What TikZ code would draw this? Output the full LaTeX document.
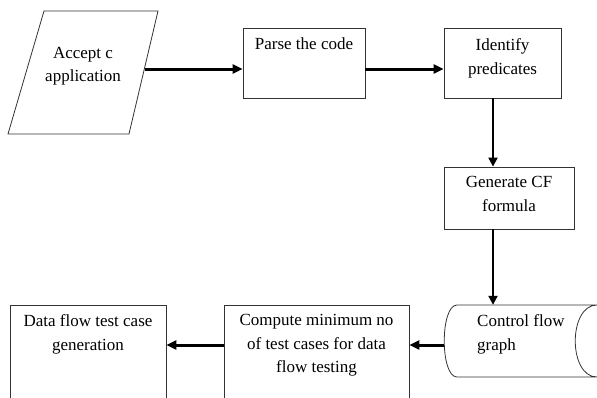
\documentclass[tikz,border=0pt]{standalone}
\usepackage{fontspec}
\setmainfont{Liberation Serif}
\usetikzlibrary{arrows.meta}
\tikzset{
  box/.style={shape=rectangle,draw=black!80,line width=0.8pt,inner sep=0pt},
  txt/.style={anchor=north,align=center,inner sep=0pt,font=\fontsize{17}{23.5}\selectfont},
  arr/.style={-{Triangle[length=10pt,width=9pt]},line width=3pt},
  varr/.style={-{Triangle[length=9pt,width=9pt]},line width=2pt}
}
\begin{document}
\begin{tikzpicture}[x=1pt,y=-1pt]
                \useasboundingbox (0,0) rectangle (597,397);
                \clip (0,0) rectangle (597,397);
                % input parallelogram
                \draw[black!80,line width=0.8pt] (44,11) -- (158,11) -- (129,134) -- (8,134) -- cycle;
                \coordinate (accept) at (144.5,69);
                \node[box,minimum width=122pt,minimum height=70pt] (parse) at (304,63) {};
                \node[box,minimum width=117pt,minimum height=70pt] (ident) at (502.5,63) {};
                \node[box,minimum width=130pt,minimum height=62pt] (gen) at (509,198) {};
                \node[minimum width=153pt,minimum height=72pt] (cfg) at (520.5,341) {};
                \node[box,minimum width=185pt,minimum height=105pt] (comp) at (316.5,357.5) {};
                \node[box,minimum width=156pt,minimum height=105pt] (dflow) at (88,357.5) {};
                % stored data outline
                \draw[black!80,line width=0.8pt] (600,305) -- (457,305) .. controls (440,305) and (440,377) .. (457,377) -- (600,377)
                      (597,305) .. controls (568,305) and (568,377) .. (597,377);
                \node[txt] (accepttxt) at (83,47) {Accept c\\application};
                \node[txt] (parsetxt) at (304,37.5) {Parse the code};
                \node[txt] (identtxt) at (502.5,38.5) {Identify\\predicates};
                \node[txt] (gentxt) at (509,176.5) {Generate CF\\formula};
                \node[txt,anchor=north west,align=left] (cfgtxt) at (477,314.5) {Control flow\\graph};
                \node[txt] (comptxt) at (316.5,314.5) {Compute minimum no\\of test cases for data\\flow testing};
                \node[txt] (dflowtxt) at (88,314.5) {Data flow test case\\generation};
                \coordinate (row1) at (0,69);
                \coordinate (row2) at (0,345);
                \coordinate (col) at (493,0);
                \path [arr] (accept) edge (parse.west |- row1);
                \path [arr] (parse.east |- row1) edge (ident.west |- row1);
                \path [varr] (ident.south -| col) edge (gen.north -| col);
                \path [varr] (gen.south -| col) edge (cfg.north -| col);
                \path [arr] (cfg.west |- row2) edge (comp.east |- row2);
                \path [arr] (comp.west |- row2) edge (dflow.east |- row2);
\end{tikzpicture}
\end{document}
